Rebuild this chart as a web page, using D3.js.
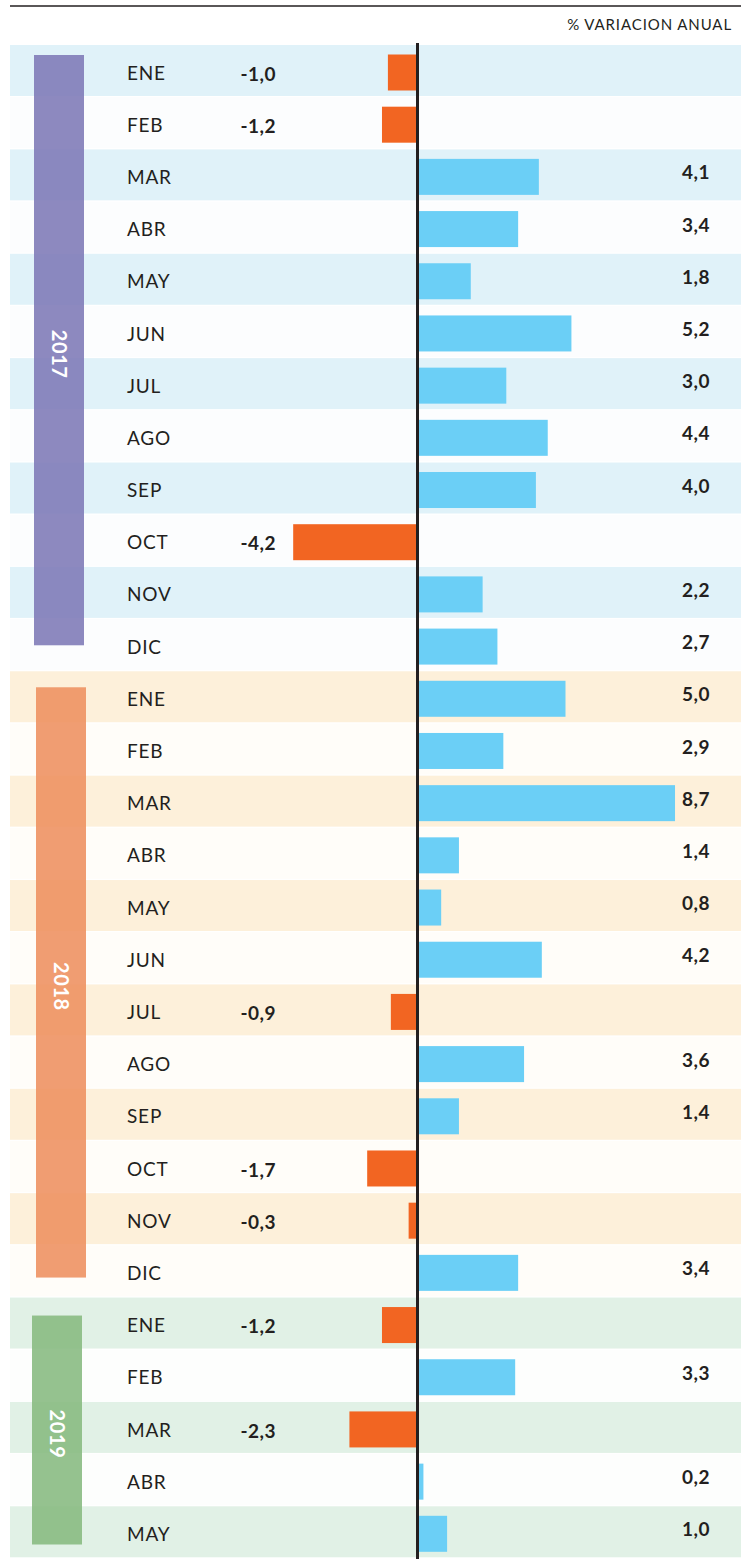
<!DOCTYPE html>
<html>
<head>
<meta charset="utf-8">
<script src="https://cdn.jsdelivr.net/npm/d3@7"></script>
<style>
  html, body { margin: 0; padding: 0; background: #ffffff; }
  svg { display: block; }
  text { font-family: Lato, "Noto Sans", sans-serif; }
</style>
</head>
<body>
<svg id="chart" width="741" height="1559"></svg>
<script>
// ---- data ----
const years = ["2017", "2018", "2019"];
const months2017 = ["ENE","FEB","MAR","ABR","MAY","JUN","JUL","AGO","SEP","OCT","NOV","DIC"];
const months2018 = ["ENE","FEB","MAR","ABR","MAY","JUN","JUL","AGO","SEP","OCT","NOV","DIC"];
const months2019 = ["ENE","FEB","MAR","ABR","MAY"];
const values2017 = [-1.0, -1.2, 4.1, 3.4, 1.8, 5.2, 3.0, 4.4, 4.0, -4.2, 2.2, 2.7];
const values2018 = [5.0, 2.9, 8.7, 1.4, 0.8, 4.2, -0.9, 3.6, 1.4, -1.7, -0.3, 3.4];
const values2019 = [-1.2, 3.3, -2.3, 0.2, 1.0];
const headerLabel = "% VARIACION ANUAL";

// ---- build rows ----
const groups = [
  { year: years[0], months: months2017, values: values2017,
    band: "#e0f2f9", alt: "#fcfdfe", bar: "#7d79b6" },
  { year: years[1], months: months2018, values: values2018,
    band: "#fdf0da", alt: "#fffdf9", bar: "#ee8f5e" },
  { year: years[2], months: months2019, values: values2019,
    band: "#e1f1e6", alt: "#fdfefd", bar: "#86b97f" }
];
const rows = [];
groups.forEach((g, gi) => {
  g.months.forEach((m, i) => rows.push({ gi, month: m, value: g.values[i], idx: i }));
});

const W = 741;
const svg = d3.select("#chart");

const y = d3.scaleBand().domain(d3.range(rows.length)).range([45, 1558.5]).paddingInner(0);
const x = d3.scaleLinear().domain([0, 1]).range([417.5, 447.1]);
const rh = y.bandwidth();

// top rule
svg.append("line").attr("x1", 10).attr("x2", W).attr("y1", 6).attr("y2", 6)
  .attr("stroke", "#231f20").attr("stroke-width", 1.5);

svg.append("text").attr("x", 732).attr("y", 30).attr("text-anchor", "end")
  .attr("font-size", 15).attr("fill", "#231f20").attr("letter-spacing", 0.9)
  .text(headerLabel);

// row bands
svg.append("g").selectAll("rect").data(rows).join("rect")
  .attr("x", 10).attr("width", W - 10)
  .attr("y", (d, i) => y(i)).attr("height", rh - 1.2)
  .attr("fill", d => d.idx % 2 === 0 ? groups[d.gi].band : groups[d.gi].alt);

// year bars
const yearBars = [
  { gi: 0, first: 0, last: 11, x0: 34, top: 10, bottom: 26 },
  { gi: 1, first: 12, last: 23, x0: 36, top: 16, bottom: 20 },
  { gi: 2, first: 24, last: 28, x0: 32, top: 18, bottom: 14 }
];
const yb = svg.append("g");
yearBars.forEach(b => {
  const top = y(b.first) + b.top;
  const bot = y(b.last) + rh - b.bottom;
  yb.append("rect").attr("x", b.x0).attr("width", 50)
    .attr("y", top).attr("height", bot - top)
    .attr("fill", groups[b.gi].bar).attr("fill-opacity", 0.88);
  const cx = b.x0 + 26, cy = (top + bot) / 2 + 4;
  yb.append("text").attr("transform", `translate(${cx},${cy}) rotate(90)`)
    .attr("text-anchor", "middle").attr("dominant-baseline", "central")
    .attr("fill", "#ffffff").attr("font-weight", "bold").attr("font-size", 20)
    .attr("letter-spacing", 0.6)
    .text(groups[b.gi].year);
});

// month labels
svg.append("g").selectAll("text").data(rows).join("text")
  .attr("x", 127).attr("y", (d, i) => y(i) + rh / 2 + 1)
  .attr("dominant-baseline", "central")
  .attr("font-size", 19).attr("fill", "#231f20").attr("letter-spacing", 0.8)
  .text(d => d.month);

// bars
svg.append("g").selectAll("rect").data(rows).join("rect")
  .attr("x", d => x(Math.min(0, d.value)))
  .attr("width", d => Math.abs(x(d.value) - x(0)))
  .attr("y", (d, i) => y(i) + 9.5).attr("height", 36)
  .attr("fill", d => d.value < 0 ? "#f26522" : "#6bcff6");

// value labels
const fmt = v => v.toFixed(1).replace(".", ",");
svg.append("g").selectAll("text").data(rows).join("text")
  .attr("x", d => d.value < 0 ? 276 : 710)
  .attr("y", (d, i) => y(i) + rh / 2 + (d.value < 0 ? 2 : -3.5))
  .attr("dominant-baseline", "central").attr("text-anchor", "end")
  .attr("font-size", 19).attr("font-weight", "bold").attr("fill", "#231f20")
  .attr("letter-spacing", 0.5)
  .text(d => fmt(d.value));

// zero axis
svg.append("line").attr("x1", x(0)).attr("x2", x(0)).attr("y1", 43).attr("y2", 1559)
  .attr("stroke", "#231f20").attr("stroke-width", 3);
</script>
</body>
</html>
